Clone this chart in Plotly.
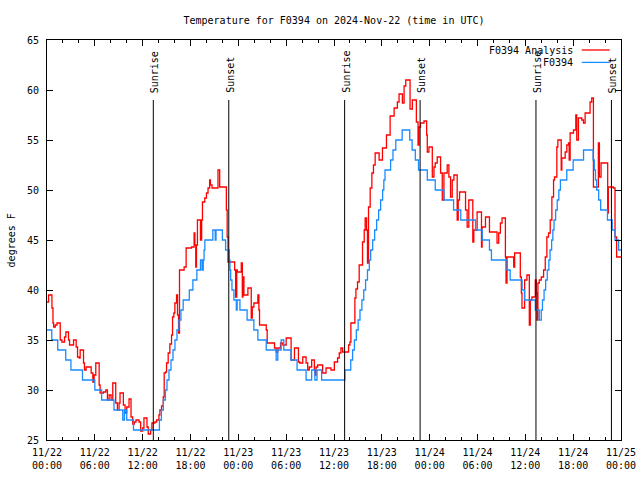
import pandas as pd
import plotly.graph_objects as go

START = "2024-11-22 00:00"

# Observed station series (F0394), hours after start and deg F (step changes)
blue_hours = [0, 0.6, 1.35, 2.35, 3.0, 4.45, 6.0, 6.85, 8.4, 9.5, 9.7, 10.0, 10.85,
              14.1, 14.35, 14.6, 14.85, 15.05, 15.3, 15.55, 15.8, 16.05, 16.3, 16.55, 16.8,
              17.08, 17.85, 18.3, 18.8, 19.25, 19.45, 19.6, 19.7, 19.8, 20.8, 21.1, 21.2,
              22.0, 22.4, 22.85, 22.95, 23.04, 23.2, 23.45, 23.75, 23.85, 24.2, 25.1,
              25.95, 26.45, 27.5, 28.75, 28.95, 29.37, 29.7, 30.6, 31.37, 32.5, 33.2,
              33.6, 33.87, 34.45, 37.37, 38.1, 38.33, 38.56, 38.8, 39.03, 39.26, 39.5,
              39.73, 39.96, 40.2, 40.43, 40.6, 40.85, 41.1, 41.35, 41.6, 41.85, 42.1,
              42.25, 42.4, 43.1, 43.4, 43.75, 44.55, 45.5, 45.8, 46.2, 46.6, 47.7, 48.7,
              49.8, 51.0, 51.9, 53.75, 54.6, 55.5, 55.75, 57.7, 58.1, 59.6, 59.9, 61.25,
              61.75, 62.0, 62.15, 62.35, 62.55, 62.75, 62.95, 63.1, 63.3, 63.45, 63.6,
              63.8, 64.0, 64.2, 64.4, 65.2, 66.0, 67.3, 68.5, 68.65, 68.8, 68.95, 69.2,
              69.45, 70.3, 70.9, 71.25, 71.7, 72.0]
blue_temps = [36, 35, 34, 33, 32, 31, 30, 29, 28, 27, 28, 27, 26,
              27, 28, 29, 30, 31, 32, 33, 34, 35, 36, 37, 38,
              39, 40, 41, 42, 43, 42, 43, 44, 45, 46, 45, 46,
              45, 44, 43, 42, 41, 40, 39, 38, 39, 38, 37,
              36, 35, 34, 33, 34, 35, 34, 33, 32, 31, 32,
              31, 32, 31, 32, 33, 34, 35, 36, 37, 38, 39,
              40, 41, 42, 43, 44, 45, 46, 47, 48, 49, 50,
              51, 52, 53, 54, 55, 56, 55, 54, 53, 52, 51, 50,
              49, 48, 47, 46, 45, 44, 43, 42, 41, 40, 39, 38,
              37, 38, 39, 40, 41, 42, 43, 44, 45, 46, 47,
              48, 49, 50, 51, 52, 53, 54, 53, 52, 51, 50, 49,
              48, 47, 46, 45, 44, 44]

# Analysis series (F0394 Analysis)
red_hours = [0, 0.2, 0.62, 0.75, 0.83, 1.04, 1.25, 1.66, 1.87, 2.2, 2.37, 2.7, 2.83, 3.33,
             3.66, 3.83, 4.04, 4.16, 4.58, 4.7, 4.91, 5.54, 5.75, 5.91, 6.12, 6.54, 6.66,
             7.08, 7.37, 7.58, 7.79, 8.04, 8.25, 8.62, 8.83, 9.04, 9.16, 9.58, 9.79, 10.0,
             10.29, 10.54, 10.75, 10.95, 11.16, 11.54, 11.75, 12.0, 12.16, 12.54, 12.7,
             13.0, 13.16, 13.54, 13.75, 14.04, 14.16, 14.37, 14.58, 14.7, 14.87, 15.0,
             15.2, 15.41, 15.62, 15.75, 15.91, 16.04, 16.25, 16.37, 16.5, 16.62, 17.2,
             17.45, 18.13, 18.45, 18.55, 18.66, 18.75, 18.87, 19.25, 19.4, 19.5, 19.79,
             20.0, 20.2, 20.4, 20.5, 20.7, 21.45, 21.66, 22.5, 22.6, 22.7, 23.54, 23.66,
             23.8, 23.87, 24.37, 24.5, 24.58, 24.7, 25.2, 25.62, 25.75, 25.95, 26.45,
             26.58, 26.66, 27.5, 27.62, 28.54, 28.75, 28.95, 29.29, 29.58, 30.0, 30.62,
             31.04, 31.54, 31.7, 32.08, 32.5, 32.7, 32.9, 33.2, 33.54, 33.62, 33.75,
             33.95, 34.58, 35.0, 35.62, 36.04, 36.45, 36.66, 36.87, 37.08, 37.83, 38.0,
             38.12, 38.62, 38.75, 38.95, 39.16, 39.58, 39.79, 39.91, 40.08, 40.2, 40.33,
             40.54, 40.75, 40.95, 41.16, 41.66, 42.08, 42.58, 43.04, 43.54, 43.95, 44.16,
             44.58, 44.79, 45.0, 45.54, 45.83, 46.33, 46.54, 46.66, 46.85, 47.29, 47.62,
             47.7, 47.91, 48.33, 48.54, 48.7, 48.95, 49.37, 49.58, 49.79, 50.2, 50.41,
             50.62, 50.83, 51.04, 51.45, 51.58, 51.75, 52.5, 52.7, 52.91, 53.41, 53.54,
             53.95, 54.5, 54.58, 55.0, 55.5, 56.45, 56.66, 56.87, 57.08, 57.5, 57.58,
             57.7, 58.54, 58.66, 59.37, 59.5, 59.58, 59.91, 60.2, 60.5, 60.62, 60.83,
             61.25, 61.37, 61.45, 61.58, 61.75, 62.0, 62.29, 62.5, 62.7, 62.91, 63.12,
             63.33, 63.54, 63.66, 63.95, 64.08, 64.5, 64.58, 65.0, 65.2, 65.41, 65.5,
             65.62, 66.04, 66.33, 66.45, 66.66, 67.08, 67.29, 67.5, 68.12, 68.33, 68.54,
             69.16, 69.29, 69.5, 70.33, 70.41, 71.04, 71.25, 71.45, 72.0]
red_temps = [38.8, 39.5, 38.2, 36.7, 36.3, 36.5, 36.7, 35.0, 34.8, 35.3, 35.8, 35.0, 34.5, 35.0,
             34.3, 33.3, 33.2, 34.0, 32.7, 32.0, 32.3, 31.7, 30.8, 31.5, 32.7, 30.5, 29.7,
             29.8, 30.0, 29.0, 29.5, 29.0, 30.7, 28.7, 28.0, 28.7, 29.7, 28.5, 27.7, 28.3,
             29.1, 27.3, 26.6, 26.8, 27.0, 26.8, 25.9, 26.2, 27.2, 26.3, 25.6,
             26.0, 26.7, 26.8, 27.0, 27.5, 28.0, 28.4, 29.3, 31.7, 31.8, 32.7,
             33.7, 34.6, 35.5, 37.3, 37.7, 38.7, 39.5, 37.5, 35.7, 42.0, 42.3,
             44.2, 44.3, 45.7, 44.5, 42.3, 44.5, 47.0, 45.0, 47.0, 48.8, 49.2,
             49.7, 50.2, 51.0, 50.5, 50.2, 52.0, 50.3, 48.0, 45.3, 42.8, 42.0, 39.3,
             42.0, 41.8, 42.7, 39.3, 41.3, 39.5, 40.2, 37.2, 38.3, 38.7, 39.5,
             38.0, 36.5, 36.0, 34.7, 34.2, 33.8, 34.2, 34.7, 34.5, 35.2, 33.0,
             34.2, 32.8, 32.7, 33.3, 32.7, 32.0, 32.3, 33.0, 32.0, 31.5, 32.3,
             32.5, 31.7, 32.2, 32.0, 32.8, 33.2, 33.7, 34.2, 33.8, 34.5, 34.8,
             36.7, 39.2, 40.1, 40.8, 42.5, 44.8, 46.0, 47.2, 46.0, 42.7, 48.3,
             50.2, 51.7, 52.5, 53.7, 53.0, 54.2, 55.5, 57.4, 58.2, 58.8, 59.6,
             58.7, 60.4, 61.0, 58.1, 59.0, 56.8, 54.5, 56.3, 56.7, 56.9, 55.5,
             53.8, 54.3, 51.3, 52.3, 52.7, 53.3, 51.7, 49.0, 51.7, 52.5, 51.3,
             49.3, 51.0, 51.5, 47.0, 49.0, 49.8, 48.0, 46.3, 49.0, 44.8, 46.0,
             47.8, 44.3, 46.3, 47.3, 45.8, 44.7, 45.7, 46.7, 47.2, 43.3, 40.7,
             43.3, 42.3, 43.7, 41.3, 39.7, 38.2, 41.0, 41.5, 36.5, 39.0, 39.3,
             41.0, 39.7, 37.0, 40.7, 41.0, 41.3, 42.0, 43.3, 45.3, 45.7, 47.0,
             49.3, 51.0, 51.3, 54.3, 55.0, 52.0, 53.2, 53.8, 54.5, 54.7, 53.0,
             55.7, 56.0, 57.5, 55.0, 57.2, 57.0, 56.7, 57.7, 58.8, 59.2, 50.3,
             54.7, 51.3, 52.7, 47.7, 50.3, 50.2, 45.3, 43.3, 43.3]

sunrise_times = ["2024-11-22 13:20", "2024-11-23 13:20", "2024-11-24 13:20"]
sunset_times = ["2024-11-22 22:48", "2024-11-23 22:48", "2024-11-24 22:48"]

tick_hours = list(range(0, 73, 6))
tick_text = ["11/22<br>00:00", "11/22<br>06:00", "11/22<br>12:00", "11/22<br>18:00",
             "11/23<br>00:00", "11/23<br>06:00", "11/23<br>12:00", "11/23<br>18:00",
             "11/24<br>00:00", "11/24<br>06:00", "11/24<br>12:00", "11/24<br>18:00",
             "11/25<br>00:00"]

start = pd.Timestamp(START)
def to_time(hours):
    return [start + pd.Timedelta(hours=h) for h in hours]

RED = "#ff0000"
BLUE = "#1a8cff"
FONT = "DejaVu Sans Mono"

fig = go.Figure()
fig.add_trace(go.Scatter(x=to_time(red_hours), y=red_temps, mode="lines",
                         line=dict(color=RED, width=1.3, shape="hv"),
                         name="F0394 Analysis"))
fig.add_trace(go.Scatter(x=to_time(blue_hours), y=blue_temps, mode="lines",
                         line=dict(color=BLUE, width=1.3, shape="hv"),
                         name="F0394"))

shapes = []
annotations = []
for label, times in (("Sunrise", sunrise_times), ("Sunset", sunset_times)):
    for t in times:
        shapes.append(dict(type="line", xref="x", yref="y", x0=t, x1=t, y0=25, y1=59,
                           line=dict(color="black", width=1)))
        annotations.append(dict(x=t, y=59, xref="x", yref="y", text=label,
                                textangle=-90, showarrow=False, xanchor="center",
                                yanchor="bottom", yshift=5, xshift=1,
                                font=dict(family=FONT, size=10, color="black")))

# legend drawn in gnuplot style: text right-aligned, sample line to its right
legend_rows = [("F0394 Analysis", RED, 0.975), ("F0394", BLUE, 0.944)]
for text, color, yy in legend_rows:
    annotations.append(dict(x=0.9194, y=yy, xref="paper", yref="paper", text=text,
                            showarrow=False, xanchor="right", yanchor="middle",
                            font=dict(family=FONT, size=10, color="black")))
    shapes.append(dict(type="line", xref="paper", yref="paper", x0=0.9316, x1=0.9804,
                       y0=yy, y1=yy, line=dict(color=color, width=1.3)))

annotations.append(dict(x=-0.062, y=0.5, xref="paper", yref="paper", text="degrees F",
                        textangle=-90, showarrow=False, xanchor="center", yanchor="middle",
                        font=dict(family=FONT, size=10, color="black")))

fig.update_layout(
    width=640, height=480,
    margin=dict(l=47, r=19, t=40, b=40, autoexpand=False),
    paper_bgcolor="white", plot_bgcolor="white",
    showlegend=False,
    font=dict(family=FONT, size=10, color="black"),
    title=dict(text="Temperature for F0394 on 2024-Nov-22 (time in UTC)",
               xref="paper", x=0.5, xanchor="center", y=1 - 20 / 480, yanchor="middle",
               font=dict(family=FONT, size=10, color="black")),
    shapes=shapes, annotations=annotations,
)
fig.update_xaxes(
    type="date", range=[to_time([0])[0], to_time([72])[0]], automargin=False,
    tickmode="array", tickvals=to_time(tick_hours), ticktext=tick_text,
    ticks="inside", ticklen=6, tickcolor="black", showgrid=False, zeroline=False,
    showline=True, linecolor="black", linewidth=1, mirror="allticks",
    ticklabelstandoff=3,
    minor=dict(tickmode="linear", tick0=START, dtick=2 * 3600 * 1000, ticks="inside",
               ticklen=3, tickcolor="black", showgrid=False),
)
fig.update_yaxes(
    range=[25, 65], tickmode="linear", tick0=25, dtick=5, automargin=False,
    ticks="inside", ticklen=6, tickcolor="black", showgrid=False, zeroline=False,
    showline=True, linecolor="black", linewidth=1, mirror="allticks",
    ticklabelstandoff=5,
)

fig.write_html(
    "out.html",
    config={"displayModeBar": False},
    post_script="document.body.style.margin='0';document.body.style.overflow='hidden';",
)
